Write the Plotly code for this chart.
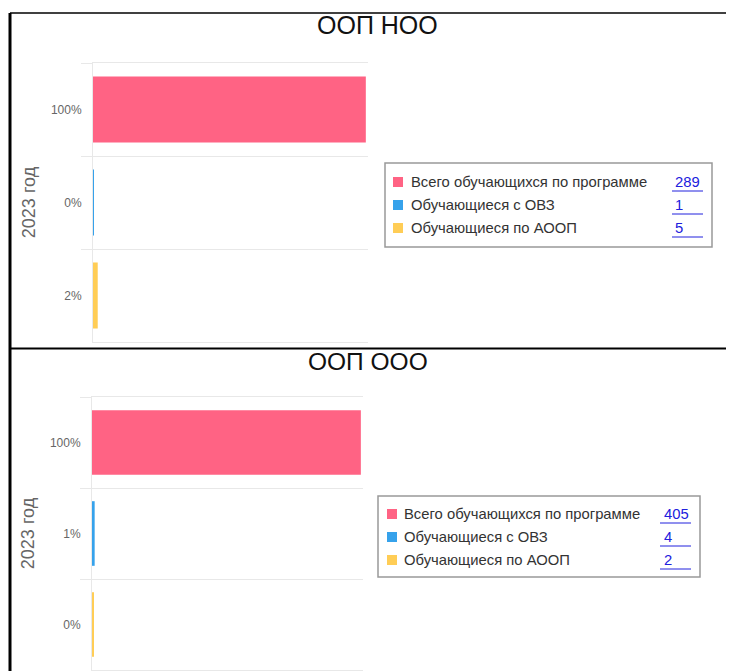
import plotly.graph_objects as go

# ---------------- data ----------------
series_names = ["Всего обучающихся по программе", "Обучающиеся с ОВЗ", "Обучающиеся по АООП"]
series_colors = ["#FF6384", "#36A2EB", "#FFCD56"]
chart_titles = ["ООП НОО", "ООП ООО"]
axis_title = "2023 год"
values_noo = [289, 1, 5]
values_ooo = [405, 4, 2]

# page body has an 8px margin, so the figure is slightly smaller than the window
OFF = 8
W, H = 734 - OFF, 671 - OFF
FONT = "Liberation Sans, Arial"
GRID = "#e8e8e8"


def px(x):
    return (x - OFF) / W


def py(y):
    return 1 - (y - OFF) / H


def pct_labels(vals):
    total = vals[0]
    return [f"{round(v / total * 100)}%" for v in vals]


fig = go.Figure()

panels = [
    dict(vals=values_noo, xa="x", ya="y", xdom=[px(93), px(368)], ydom=[py(342), py(63)],
         title_xy=(377, 25), title_size=25, box=(385, 163, 712, 247), rows=[182, 205, 228],
         sq=393, tx=409, nx=673, ul=(672, 703)),
    dict(vals=values_ooo, xa="x2", ya="y2", xdom=[px(92), px(363)], ydom=[py(670), py(397)],
         title_xy=(368, 361), title_size=24.5, box=(378, 496, 700, 577), rows=[514, 537, 560],
         sq=387, tx=402, nx=662, ul=(660, 691)),
]

shapes = []
annotations = []

for i, p in enumerate(panels):
    labels = pct_labels(p["vals"])
    for name, color, v, lab in zip(series_names, series_colors, p["vals"], labels):
        fig.add_trace(go.Bar(
            x=[v], y=[lab], orientation="h", name=name,
            marker=dict(color=color, line=dict(width=0, color=color)),
            width=0.71, xaxis=p["xa"], yaxis=p["ya"],
            showlegend=False, hoverinfo="skip",
        ))
    sfx = "" if i == 0 else "2"
    fig.update_layout(**{
        f"xaxis{sfx}": dict(domain=p["xdom"], anchor=p["ya"], range=[0, p["vals"][0] * 1.008],
                            showgrid=False, zeroline=False, showticklabels=False,
                            showline=True, mirror=True, linecolor=GRID, linewidth=1,
                            layer="below traces", fixedrange=True),
        f"yaxis{sfx}": dict(domain=p["ydom"], anchor=p["xa"], type="category",
                            categoryorder="array", categoryarray=labels, autorange="reversed",
                            tickson="boundaries", ticks="outside", ticklen=11,
                            tickcolor=GRID, gridcolor=GRID, gridwidth=1,
                            showline=True, linecolor="#e8e8e8", linewidth=1,
                            layer="below traces", ticklabelstandoff=8,
                            tickfont=dict(family=FONT, size=12, color="#666666"),
                            title=dict(text=axis_title, standoff=10,
                                       font=dict(family=FONT, size=18, color="#666666")),
                            fixedrange=True),
    })
    # chart title
    tx_, ty_ = p["title_xy"]
    annotations.append(dict(text=chart_titles[i], x=px(tx_), y=py(ty_), xref="paper", yref="paper",
                            xanchor="center", yanchor="middle", showarrow=False,
                            font=dict(family=FONT, size=p["title_size"], color="#111111")))
    # custom legend box
    x0, y0, x1, y1 = p["box"]
    shapes.append(dict(type="rect", xref="paper", yref="paper", x0=px(x0), x1=px(x1), y0=py(y1), y1=py(y0),
                       line=dict(color="#999999", width=1.5), fillcolor="rgba(0,0,0,0)"))
    for name, color, v, ry in zip(series_names, series_colors, p["vals"], p["rows"]):
        shapes.append(dict(type="rect", xref="paper", yref="paper",
                           x0=px(p["sq"]), x1=px(p["sq"] + 10), y0=py(ry + 5), y1=py(ry - 5),
                           line=dict(width=0), fillcolor=color))
        annotations.append(dict(text=name, x=px(p["tx"]), y=py(ry), xref="paper", yref="paper",
                                xanchor="left", yanchor="middle", showarrow=False,
                                font=dict(family=FONT, size=14.8, color="#333333")))
        annotations.append(dict(text=str(v), x=px(p["nx"]), y=py(ry), xref="paper", yref="paper",
                                xanchor="left", yanchor="middle", showarrow=False,
                                font=dict(family=FONT, size=14.8, color="#2020dd")))
        shapes.append(dict(type="line", xref="paper", yref="paper",
                           x0=px(p["ul"][0]), x1=px(p["ul"][1]), y0=py(ry + 9), y1=py(ry + 9),
                           line=dict(color="#2020dd", width=1)))

# frame borders of the screenshot
frame = [
    (10, 13, 734, 13, 1.5),
    (10, 13, 10, 671, 3),
    (10, 348.5, 729, 348.5, 1.8),
    (728.5, 348, 728.5, 671, 1.5),
]
for x0, y0, x1, y1, w in frame:
    shapes.append(dict(type="line", xref="paper", yref="paper", x0=px(x0), x1=px(x1), y0=py(y0), y1=py(y1),
                       line=dict(color="#000000", width=w)))

fig.update_layout(
    width=W, height=H, autosize=False,
    margin=dict(l=0, r=0, t=0, b=0),
    paper_bgcolor="white", plot_bgcolor="white",
    barmode="overlay", showlegend=False,
    shapes=shapes, annotations=annotations,
    font=dict(family=FONT),
)

fig.write_html("out.html", config={"displayModeBar": False})
